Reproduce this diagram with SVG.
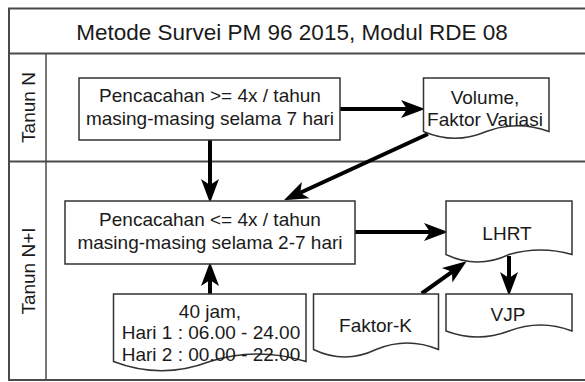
<svg xmlns="http://www.w3.org/2000/svg" width="585" height="382" viewBox="0 0 585 382">
<style>
text{font-family:"Liberation Sans",Arial,Helvetica,sans-serif;fill:#1a1a1a;text-anchor:middle}
.t{font-size:19px}
.title{font-size:22.5px}
.lane{fill:none;stroke:#4a4a4a;stroke-width:2}
.lane2{fill:none;stroke:#4a4a4a;stroke-width:1.5}
.box{fill:#fff;stroke:#333;stroke-width:1.5}
.edge{fill:none;stroke:#000;stroke-width:4}
</style>
<defs>
<marker id="ah" markerUnits="userSpaceOnUse" viewBox="-8 -10 28 20" refX="0" refY="0" markerWidth="28" markerHeight="20" orient="auto" overflow="visible">
<path d="M18,0 L-6,-9 L0,0 L-6,9 Z" fill="#000"/>
</marker>
</defs>
<rect width="585" height="382" fill="#fff"/>
<g id="pool">
<rect class="lane" x="9" y="8.5" width="590" height="371.5"/>
<line class="lane" x1="9" y1="53.5" x2="599" y2="53.5"/>
<line class="lane" x1="9" y1="161.5" x2="599" y2="161.5"/>
<line class="lane2" x1="46" y1="53.5" x2="46" y2="380"/>
<text class="title" x="292" y="40">Metode Survei PM 96 2015, Modul RDE 08</text>
</g>
<g id="lane-n">
<text class="t" transform="translate(35,107.5) rotate(-90)">Tanun N</text>
</g>
<g id="lane-n1">
<text class="t" transform="translate(35,271) rotate(-90)">Tanun N+I</text>
</g>
<g id="connectors">
<line class="edge" x1="340" y1="109" x2="407" y2="109" marker-end="url(#ah)"/>
<line class="edge" x1="210" y1="140" x2="210" y2="185" marker-end="url(#ah)"/>
<line class="edge" x1="428" y1="134" x2="300.2" y2="192.7" marker-end="url(#ah)"/>
<line class="edge" x1="355" y1="232" x2="430" y2="232" marker-end="url(#ah)"/>
<line class="edge" x1="210" y1="294" x2="210" y2="280" marker-end="url(#ah)"/>
<line class="edge" x1="421.7" y1="293.5" x2="452" y2="271.8" marker-end="url(#ah)"/>
<line class="edge" x1="509" y1="256" x2="509" y2="278" marker-end="url(#ah)"/>
</g>
<g id="box1">
<rect class="box" x="79" y="78" width="261" height="62"/>
<text class="t" x="210" y="101.5">Pencacahan &gt;= 4x / tahun</text>
<text class="t" x="210" y="125">masing-masing selama 7 hari</text>
</g>
<g id="volume">
<path class="box" d="M423.5,78 H549 V131.5 Q517.6,120 486.25,131.5 Q454.9,145 423.5,131.5 Z"/>
<text class="t" x="485" y="103.5">Volume,</text>
<text class="t" x="485" y="126">Faktor Variasi</text>
</g>
<g id="box2">
<rect class="box" x="65" y="201" width="290" height="63"/>
<text class="t" x="210" y="225.5">Pencacahan &lt;= 4x / tahun</text>
<text class="t" x="210" y="248.5">masing-masing selama 2-7 hari</text>
</g>
<g id="lhrt">
<path class="box" d="M446,201 H572 V254.5 Q540.5,245.5 509,254.5 Q477.5,269.5 446,254.5 Z"/>
<text class="t" x="507" y="239.5">LHRT</text>
</g>
<g id="vjp">
<path class="box" d="M446,294 H572 V331 Q540.5,319 509,331 Q477.5,343 446,331 Z"/>
<text class="t" x="508" y="321">VJP</text>
</g>
<g id="faktor-k">
<path class="box" d="M313.5,294 H438.5 V349.5 Q407.25,336.5 376,349.5 Q344.75,364.5 313.5,349.5 Z"/>
<text class="t" x="375.5" y="331.5">Faktor-K</text>
</g>
<g id="jam40">
<path class="box" d="M113.5,294 H306 V361.5 Q257.9,346.5 209.75,361.5 Q161.6,380 113.5,361.5 Z"/>
<text class="t" x="210" y="317.5">40 jam,</text>
<text class="t" x="211" y="339">Hari 1 : 06.00 - 24.00</text>
<text class="t" x="211" y="360.5">Hari 2 : 00.00 - 22.00</text>
</g>
</svg>
